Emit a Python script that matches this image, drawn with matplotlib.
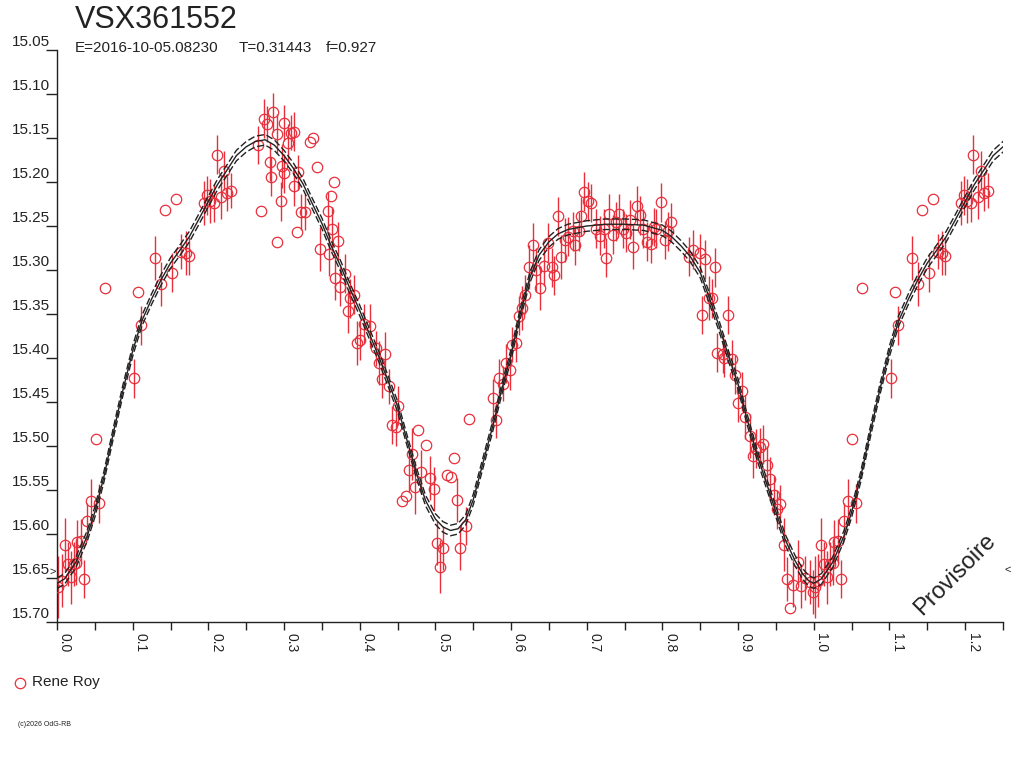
import numpy as np
import matplotlib
matplotlib.use("Agg")
import matplotlib.pyplot as plt

# ---------------- data ----------------
title = "VSX361552"
epoch_txt = "E=2016-10-05.08230"
period_txt = "T=0.31443"
f_txt = "f=0.927"
observer = "Rene Roy"
copyright_txt = "(c)2026 OdG-RB"
watermark = "Provisoire"

phase = [0.001, 0.006, 0.010, 0.014, 0.018, 0.022, 0.025, 0.027, 0.032, 0.036,
         0.040, 0.045, 0.051, 0.056, 0.064, 0.102, 0.107, 0.111, 0.130, 0.138,
         0.143, 0.152, 0.157, 0.164, 0.170, 0.174, 0.194, 0.198, 0.202, 0.208,
         0.211, 0.217, 0.221, 0.225, 0.230, 0.265, 0.269, 0.274, 0.278, 0.282,
         0.283, 0.286, 0.291, 0.291, 0.296, 0.297, 0.300, 0.300, 0.305, 0.309,
         0.313, 0.313, 0.317, 0.319, 0.322, 0.328, 0.334, 0.338, 0.343, 0.347,
         0.358, 0.360, 0.362, 0.363, 0.366, 0.367, 0.371, 0.374, 0.380, 0.384,
         0.387, 0.393, 0.397, 0.401, 0.406, 0.413, 0.421, 0.426, 0.429, 0.434,
         0.439, 0.442, 0.448, 0.451, 0.456, 0.461, 0.465, 0.469, 0.473, 0.477,
         0.481, 0.488, 0.493, 0.498, 0.502, 0.506, 0.510, 0.515, 0.520, 0.524,
         0.528, 0.532, 0.540, 0.545, 0.576, 0.580, 0.584, 0.589, 0.593, 0.598,
         0.601, 0.606, 0.610, 0.615, 0.619, 0.624, 0.629, 0.633, 0.638, 0.644,
         0.649, 0.654, 0.657, 0.662, 0.666, 0.671, 0.675, 0.682, 0.684, 0.690,
         0.693, 0.697, 0.702, 0.706, 0.712, 0.717, 0.723, 0.726, 0.730, 0.735,
         0.739, 0.743, 0.748, 0.752, 0.757, 0.761, 0.766, 0.770, 0.774, 0.780,
         0.785, 0.789, 0.792, 0.798, 0.803, 0.807, 0.811, 0.835, 0.840, 0.849,
         0.852, 0.856, 0.862, 0.866, 0.870, 0.872, 0.880, 0.882, 0.887, 0.892,
         0.896, 0.900, 0.905, 0.909, 0.916, 0.920, 0.923, 0.929, 0.933, 0.938,
         0.942, 0.947, 0.951, 0.955, 0.960, 0.964, 0.969, 0.973, 0.979, 0.983,
         0.989, 0.995, 0.999]

mag = [15.660, 15.653, 15.612, 15.634, 15.649, 15.634, 15.633, 15.609, 15.608, 15.651,
       15.585, 15.562, 15.492, 15.565, 15.320, 15.423, 15.325, 15.363, 15.286, 15.316,
       15.232, 15.303, 15.219, 15.279, 15.281, 15.284, 15.224, 15.215, 15.222, 15.224,
       15.169, 15.217, 15.187, 15.213, 15.210, 15.158, 15.233, 15.128, 15.134, 15.177,
       15.194, 15.121, 15.145, 15.268, 15.222, 15.182, 15.133, 15.190, 15.156, 15.144,
       15.143, 15.205, 15.257, 15.189, 15.234, 15.234, 15.154, 15.150, 15.183, 15.276,
       15.233, 15.282, 15.216, 15.253, 15.200, 15.309, 15.267, 15.319, 15.304, 15.347,
       15.332, 15.328, 15.383, 15.380, 15.361, 15.364, 15.389, 15.406, 15.424, 15.395,
       15.432, 15.476, 15.478, 15.454, 15.563, 15.557, 15.527, 15.509, 15.547, 15.482,
       15.530, 15.499, 15.536, 15.549, 15.610, 15.637, 15.616, 15.533, 15.535, 15.514,
       15.561, 15.616, 15.591, 15.469, 15.446, 15.471, 15.423, 15.429, 15.406, 15.414,
       15.385, 15.383, 15.352, 15.343, 15.328, 15.297, 15.272, 15.300, 15.320, 15.296,
       15.269, 15.297, 15.306, 15.239, 15.285, 15.266, 15.262, 15.256, 15.272, 15.256,
       15.239, 15.211, 15.222, 15.224, 15.253, 15.261, 15.253, 15.286, 15.236, 15.260,
       15.245, 15.236, 15.253, 15.258, 15.243, 15.274, 15.227, 15.238, 15.253, 15.268,
       15.270, 15.251, 15.253, 15.223, 15.266, 15.256, 15.246, 15.285, 15.277, 15.281,
       15.351, 15.288, 15.332, 15.332, 15.297, 15.394, 15.395, 15.400, 15.351, 15.401,
       15.419, 15.451, 15.438, 15.467, 15.489, 15.511, 15.503, 15.501, 15.498, 15.522,
       15.537, 15.556, 15.572, 15.566, 15.612, 15.651, 15.684, 15.658, 15.632, 15.659,
       15.650, 15.654, 15.666]

err = [0.035, 0.030, 0.030, 0.025, 0.030, 0.025, 0.025, 0.025, 0.025, 0.022,
       0.020, 0.025, 0.000, 0.022, 0.000, 0.022, 0.000, 0.022, 0.025, 0.025,
       0.000, 0.022, 0.000, 0.020, 0.025, 0.022, 0.025, 0.022, 0.025, 0.022,
       0.022, 0.025, 0.022, 0.020, 0.020, 0.022, 0.000, 0.022, 0.020, 0.022,
       0.022, 0.022, 0.022, 0.000, 0.022, 0.025, 0.020, 0.022, 0.022, 0.020,
       0.022, 0.022, 0.000, 0.020, 0.020, 0.020, 0.000, 0.000, 0.000, 0.025,
       0.022, 0.025, 0.000, 0.025, 0.000, 0.025, 0.022, 0.022, 0.022, 0.025,
       0.022, 0.022, 0.025, 0.022, 0.022, 0.025, 0.020, 0.025, 0.022, 0.025,
       0.020, 0.022, 0.022, 0.022, 0.000, 0.000, 0.025, 0.030, 0.030, 0.000,
       0.025, 0.000, 0.025, 0.025, 0.025, 0.030, 0.025, 0.000, 0.000, 0.000,
       0.025, 0.025, 0.022, 0.000, 0.022, 0.020, 0.022, 0.020, 0.022, 0.022,
       0.020, 0.022, 0.022, 0.025, 0.022, 0.025, 0.025, 0.025, 0.025, 0.022,
       0.022, 0.022, 0.022, 0.022, 0.025, 0.025, 0.022, 0.022, 0.022, 0.022,
       0.022, 0.022, 0.022, 0.022, 0.022, 0.022, 0.022, 0.022, 0.022, 0.022,
       0.022, 0.022, 0.022, 0.022, 0.022, 0.025, 0.022, 0.022, 0.022, 0.022,
       0.022, 0.022, 0.022, 0.022, 0.022, 0.022, 0.022, 0.022, 0.022, 0.022,
       0.022, 0.022, 0.025, 0.022, 0.022, 0.022, 0.022, 0.022, 0.022, 0.022,
       0.022, 0.022, 0.022, 0.025, 0.025, 0.025, 0.022, 0.022, 0.022, 0.022,
       0.025, 0.022, 0.022, 0.022, 0.030, 0.025, 0.000, 0.025, 0.025, 0.025,
       0.025, 0.025, 0.025]

# fitted light curve (central line)
curve_phase = [0.000, 0.010, 0.025, 0.040, 0.050, 0.062, 0.075, 0.087, 0.100, 0.112,
               0.125, 0.137, 0.150, 0.162, 0.175, 0.187, 0.200, 0.212, 0.225, 0.237,
               0.250, 0.262, 0.275, 0.287, 0.300, 0.312, 0.325, 0.337, 0.350, 0.362,
               0.375, 0.387, 0.400, 0.412, 0.425, 0.437, 0.450, 0.462, 0.475, 0.487,
               0.500, 0.510, 0.520, 0.530, 0.540, 0.550, 0.562, 0.575, 0.587, 0.600,
               0.612, 0.625, 0.637, 0.650, 0.662, 0.675, 0.700, 0.725, 0.750, 0.775,
               0.800, 0.812, 0.825, 0.837, 0.850, 0.862, 0.875, 0.887, 0.900, 0.912,
               0.925, 0.937, 0.950, 0.962, 0.975, 0.985, 0.993, 1.000]
curve_mag = [15.656, 15.651, 15.632, 15.602, 15.575, 15.535, 15.483, 15.437, 15.392, 15.358,
             15.333, 15.312, 15.292, 15.278, 15.262, 15.243, 15.222, 15.203, 15.186, 15.170,
             15.160, 15.154, 15.152, 15.158, 15.170, 15.184, 15.202, 15.224, 15.247, 15.272,
             15.296, 15.321, 15.346, 15.371, 15.398, 15.425, 15.455, 15.492, 15.531, 15.562,
             15.583, 15.592, 15.596, 15.594, 15.584, 15.561, 15.522, 15.480, 15.438, 15.396,
             15.350, 15.308, 15.283, 15.268, 15.259, 15.254, 15.250, 15.248, 15.248, 15.249,
             15.255, 15.262, 15.273, 15.285, 15.303, 15.332, 15.364, 15.397, 15.430, 15.470,
             15.510, 15.541, 15.575, 15.606, 15.630, 15.645, 15.653, 15.656]
curve_band = 0.006   # half-width of the dashed envelope (mag)

y_ticks = [15.05, 15.10, 15.15, 15.20, 15.25, 15.30, 15.35, 15.40, 15.45, 15.50,
           15.55, 15.60, 15.65, 15.70]
x_label_ticks = [0.0, 0.1, 0.2, 0.3, 0.4, 0.5, 0.6, 0.7, 0.8, 0.9, 1.0, 1.1, 1.2]
x_min, x_max = 0.0, 1.25
y_top, y_bottom = 15.05, 15.70

# ---------------- plotting ----------------
RED = "#e8303c"
DARK = "#222222"
FONT = "Liberation Sans"
plt.rcParams["font.family"] = [FONT, "DejaVu Sans"]

W, H = 1024, 768
fig = plt.figure(figsize=(W / 100, H / 100), dpi=100)
ax = fig.add_axes([57 / W, 1 - 622 / H, 946 / W, 572 / H])

ph = np.asarray(phase)
mg = np.asarray(mag)
er = np.asarray(err)
wrap = ph + 1.0 <= x_max
ph_all = np.concatenate([ph, ph[wrap] + 1.0])
mg_all = np.concatenate([mg, mg[wrap]])
er_all = np.concatenate([er, er[wrap]])

cp = np.asarray(curve_phase)
cm = np.asarray(curve_mag)
cwrap = (cp[1:] + 1.0) <= x_max + 0.03
cp_all = np.concatenate([cp, cp[1:][cwrap] + 1.0])
cm_all = np.concatenate([cm, cm[1:][cwrap]])

# error bars
has_err = er_all > 0
ax.vlines(ph_all[has_err], mg_all[has_err] - er_all[has_err],
          mg_all[has_err] + er_all[has_err], color=RED, lw=1.0, zorder=2)
# points
ax.plot(ph_all, mg_all, linestyle="none", marker="o", markersize=7.5,
        markerfacecolor="none", markeredgecolor=RED, markeredgewidth=0.9, zorder=3)

# model curves
ax.plot(cp_all, cm_all, color=DARK, lw=1.0, zorder=4)
ax.plot(cp_all, cm_all - curve_band, color=DARK, lw=1.0, ls=(0, (5, 2)), zorder=4)
ax.plot(cp_all, cm_all + curve_band, color=DARK, lw=1.0, ls=(0, (5, 2)), zorder=4)

ax.set_xlim(x_min, x_max)
ax.set_ylim(y_bottom, y_top)

for s in ("top", "right"):
    ax.spines[s].set_visible(False)
for s in ("left", "bottom"):
    ax.spines[s].set_color(DARK)
    ax.spines[s].set_linewidth(1.0)

ax.set_yticks(y_ticks)
ax.set_xticks(np.round(np.arange(0, x_max + 0.001, 0.05), 2))
ax.tick_params(axis="y", direction="out", length=8, width=1.0, color=DARK,
               labelleft=False)
ax.tick_params(axis="x", direction="out", length=6, width=1.0, color=DARK,
               labelbottom=False)

for v in y_ticks:
    ax.annotate(f"{v:.2f}", xy=(0, v), xycoords=("axes fraction", "data"),
                xytext=(-5, 1), textcoords="offset points", ha="right", va="bottom",
                fontsize=11, color=DARK, annotation_clip=False)
for v in x_label_ticks:
    ax.annotate(f"{v:.1f}", xy=(v, 0), xycoords=("data", "axes fraction"),
                xytext=(0.5, -8), textcoords="offset points", ha="left", va="top",
                rotation=-90, fontsize=10, color=DARK, annotation_clip=False)

# header
fig.text(75 / W, 1 - 5 / H, title, fontsize=22, color=DARK, ha="left", va="top")
fig.text(75 / W, 1 - 41 / H, epoch_txt, fontsize=11, color=DARK, ha="left", va="top")
fig.text(239 / W, 1 - 41 / H, period_txt, fontsize=11, color=DARK, ha="left", va="top")
fig.text(326 / W, 1 - 41 / H, f_txt, fontsize=11, color=DARK, ha="left", va="top")

# small range markers
fig.text(53 / W, 1 - 572 / H, ">", fontsize=8, color=DARK, ha="center", va="center")
fig.text(1008 / W, 1 - 570 / H, "<", fontsize=8, color=DARK, ha="center", va="center")

# watermark
fig.text(955 / W, 1 - 575 / H, watermark, fontsize=17, color=DARK, rotation=45,
         ha="center", va="center")

# legend
fig.lines.append(matplotlib.lines.Line2D([20 / W], [1 - 683 / H], transform=fig.transFigure,
                                         marker="o", markersize=7.5, markerfacecolor="none",
                                         markeredgecolor=RED, markeredgewidth=0.9,
                                         linestyle="none"))
fig.text(32 / W, 1 - 682 / H, observer, fontsize=11, color=DARK, ha="left", va="center")
fig.text(18 / W, 1 - 725 / H, copyright_txt, fontsize=5, color=DARK, ha="left", va="center")

fig.savefig("out.png", dpi=100, facecolor="white")
